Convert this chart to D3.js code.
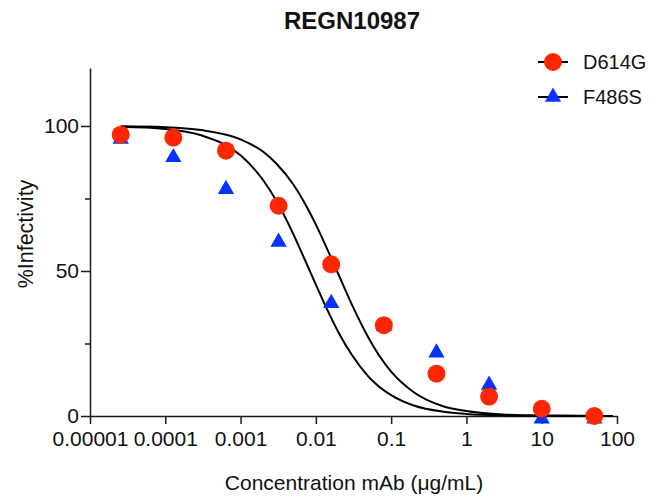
<!DOCTYPE html>
<html>
<head>
<meta charset="utf-8">
<script src="https://cdn.jsdelivr.net/npm/d3@7"></script>
<style>
  body { margin: 0; background: white; }
  text { font-family: Arial, "Liberation Sans", Helvetica, sans-serif; fill: #111; }
</style>
</head>
<body>
<div id="my_dataviz"></div>
<script>
// concentrations of the 5-fold dilution series (ug/mL)
var concentrations = [0.0000256, 0.000128, 0.00064, 0.0032, 0.016, 0.08, 0.4, 2, 10, 50];
var seriesNames = ["D614G", "F486S"];
var d614gValues = [97, 96, 91.5, 72.5, 52.3, 31.3, 14.6, 6.7, 2.5, 0];
var f486sValues = [95.5, 89.2, 78.2, 60, 38.9, 31, 21.8, 10.7, -1, -1];

// fitted curves
var curveConc = [0.0000256, 0.0001, 0.0003, 0.001, 0.002, 0.003, 0.005, 0.007, 0.01, 0.015,
  0.02, 0.03, 0.05, 0.07, 0.1, 0.2, 0.5, 1, 3, 10, 88];
var d614gCurve = [99.9, 99.6, 98.6, 95.4, 91.1, 87, 79.9, 73.7, 66, 56.1,
  48.8, 38.5, 27, 20.7, 15.3, 8.2, 3.3, 1.7, 0.5, 0.16, 0.02];
var f486sCurve = [99.7, 99, 96.8, 89.9, 81.3, 74.1, 62.8, 54.4, 45.3, 35.3,
  28.8, 21.1, 13.6, 10, 7.2, 3.6, 1.45, 0.72, 0.23, 0.07, 0.01];

var xTicks = [0.00001, 0.0001, 0.001, 0.01, 0.1, 1, 10, 100];
var xTickLabels = ["0.00001", "0.0001", "0.001", "0.01", "0.1", "1", "10", "100"];
var yTicks = [0, 50, 100];
var yMinorTicks = [25, 75];

var redColor = "#ff2600";
var blueColor = "#0433ff";
var axisColor = "#1a1a1a";

var width = 664, height = 504;
var margin = { top: 68, right: 47, bottom: 88, left: 90 };

var svg = d3
  .select("#my_dataviz")
  .append("svg")
  .attr("width", width)
  .attr("height", height);

// scales
var x = d3.scaleLog().domain([0.00001, 100]).range([margin.left, width - margin.right]);
var y = d3.scaleLinear().domain([0, 120]).range([height - margin.bottom, margin.top]);

// title
svg
  .append("text")
  .attr("x", 352)
  .attr("y", 29)
  .attr("text-anchor", "middle")
  .style("font-size", "24px")
  .style("font-weight", "bold")
  .text("REGN10987");

// x axis
var xAxis = svg
  .append("g")
  .attr("transform", "translate(0," + y(0) + ")")
  .call(
    d3.axisBottom(x)
      .tickValues(xTicks)
      .tickFormat(function (d, i) { return xTickLabels[i]; })
      .tickSize(8)
      .tickSizeOuter(0)
      .tickPadding(7)
  );
xAxis.selectAll("text").style("font-size", "21px");

// y axis + minor ticks
var yAxis = svg
  .append("g")
  .attr("transform", "translate(" + margin.left + ",0)")
  .call(d3.axisLeft(y).tickValues(yTicks).tickSize(9).tickSizeOuter(0).tickPadding(2));
yAxis.selectAll("text").style("font-size", "21px");

svg
  .append("g")
  .attr("transform", "translate(" + margin.left + ",0)")
  .call(d3.axisLeft(y).tickValues(yMinorTicks).tickSize(5).tickFormat(""))
  .select(".domain")
  .remove();

svg.selectAll(".domain, .tick line")
  .attr("stroke", axisColor)
  .attr("stroke-width", 1.5);

// axis titles
svg
  .append("text")
  .attr("transform", "translate(33,234) rotate(-90)")
  .attr("text-anchor", "middle")
  .style("font-size", "21.5px")
  .text("%Infectivity");

svg
  .append("text")
  .attr("x", 354)
  .attr("y", 490)
  .attr("text-anchor", "middle")
  .style("font-size", "21px")
  .text("Concentration mAb (\u03BCg/mL)");

// fitted curves
var line = d3
  .line()
  .x(function (d) { return x(d[0]); })
  .y(function (d) { return y(d[1]); })
  .curve(d3.curveMonotoneX);

[d614gCurve, f486sCurve].forEach(function (c) {
  svg
    .append("path")
    .datum(d3.zip(curveConc, c))
    .attr("fill", "none")
    .attr("stroke", "black")
    .attr("stroke-width", 2)
    .attr("d", line);
});

// points: triangles first, circles on top
var triangle = d3.symbol().type(d3.symbolTriangle).size(115);

svg
  .selectAll(".tri")
  .data(d3.zip(concentrations, f486sValues))
  .enter()
  .append("path")
  .attr("class", "tri")
  .attr("d", triangle)
  .attr("transform", function (d) { return "translate(" + x(d[0]) + "," + y(d[1]) + ")"; })
  .style("fill", blueColor);

svg
  .selectAll(".dot")
  .data(d3.zip(concentrations, d614gValues))
  .enter()
  .append("circle")
  .attr("class", "dot")
  .attr("cx", function (d) { return x(d[0]); })
  .attr("cy", function (d) { return y(d[1]); })
  .attr("r", 9)
  .style("fill", redColor);

// legend
var legendY = [62, 97];
seriesNames.forEach(function (name, i) {
  var g = svg.append("g").attr("transform", "translate(553," + legendY[i] + ")");
  g.append("line")
    .attr("x1", -15).attr("x2", 15)
    .attr("stroke", "black").attr("stroke-width", 2);
  if (i == 0) {
    g.append("circle").attr("r", 9).style("fill", redColor);
  } else {
    g.append("path").attr("d", triangle).style("fill", blueColor);
  }
  g.append("text")
    .attr("x", 30)
    .attr("y", 7)
    .style("font-size", "20px")
    .text(name);
});
</script>
</body>
</html>
